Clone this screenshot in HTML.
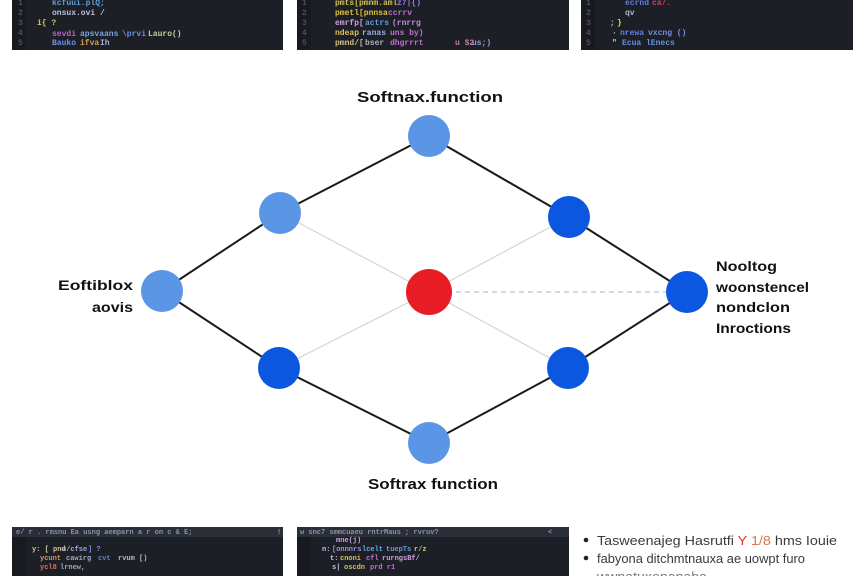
<!DOCTYPE html>
<html>
<head>
<meta charset="utf-8">
<style>
  html,body{margin:0;padding:0;background:#fff;}
  body{width:864px;height:576px;overflow:hidden;position:relative;font-family:"Liberation Sans",sans-serif;}
  svg{position:absolute;left:0;top:0;}
  .code{font-family:"Liberation Mono",monospace;font-size:8px;font-weight:bold;}
  .lbl{font-family:"Liberation Sans",sans-serif;font-weight:bold;fill:#111;}
</style>
</head>
<body>
<svg width="864" height="576" viewBox="0 0 864 576" xmlns="http://www.w3.org/2000/svg">
  <!-- Top code panels -->
  <rect x="12" y="0" width="271" height="50" fill="#1c1f26"/>
  <rect x="12" y="0" width="14" height="50" fill="#181a20"/>
  <rect x="297" y="0" width="272" height="50" fill="#1c1f26"/>
  <rect x="297" y="0" width="14" height="50" fill="#181a20"/>
  <rect x="581" y="0" width="272" height="50" fill="#1c1f26"/>
  <rect x="581" y="0" width="14" height="50" fill="#181a20"/>

  <g class="code">
    <!-- panel 1 -->
    <text x="18" y="5" fill="#4a5060">1</text>
    <text x="18" y="15" fill="#4a5060">2</text>
    <text x="18" y="25" fill="#4a5060">3</text>
    <text x="18" y="35" fill="#4a5060">4</text>
    <text x="18" y="45" fill="#4a5060">5</text>
    <text x="52" y="5" fill="#5f9fd8">kcfuui.plQ;</text>
    <text x="52" y="15" fill="#b9c2d6">onsux.ovi /</text>
    <text x="37" y="25" fill="#d9c46a">i{ ?</text>
    <text x="52" y="36" fill="#c05fd0">sevdi</text>
    <text x="80" y="36" fill="#7ea4e0">apsvaans</text>
    <text x="122" y="36" fill="#6c8fe0">\prvi</text>
    <text x="148" y="36" fill="#c8d0a0">Lauro()</text>
    <text x="52" y="45" fill="#6e8ff0">Bauko</text>
    <text x="80" y="45" fill="#d8a050">ifva</text>
    <text x="100" y="45" fill="#9fb0e0">Ih</text>
    <!-- panel 2 -->
    <text x="302" y="5" fill="#4a5060">1</text>
    <text x="302" y="15" fill="#4a5060">2</text>
    <text x="302" y="25" fill="#4a5060">3</text>
    <text x="302" y="35" fill="#4a5060">4</text>
    <text x="302" y="45" fill="#4a5060">5</text>
    <text x="335" y="5" fill="#d2c050">pmts[pmnm.aml</text>
    <text x="397" y="5" fill="#a070e0">z7|{)</text>
    <text x="335" y="15" fill="#e0c040">pmetl[pnnsa</text>
    <text x="388" y="15" fill="#c070d0">ccrrv</text>
    <text x="335" y="25" fill="#d0a0e0">emrfp[</text>
    <text x="365" y="25" fill="#60a0e0">actrs</text>
    <text x="392" y="25" fill="#c090e0">(rnrrg</text>
    <text x="335" y="35" fill="#e0c050">ndeap</text>
    <text x="362" y="35" fill="#a0b0e0">ranas</text>
    <text x="390" y="35" fill="#c070d0">uns by)</text>
    <text x="335" y="45" fill="#d0c080">pmnd/[</text>
    <text x="365" y="45" fill="#b0b0c0">bser</text>
    <text x="390" y="45" fill="#c070d0">dhgrrrt</text>
    <text x="455" y="45" fill="#c080a0">u $2</text>
    <text x="472" y="45" fill="#90a0d0">us;)</text>
    <!-- panel 3 -->
    <text x="586" y="5" fill="#4a5060">1</text>
    <text x="586" y="15" fill="#4a5060">2</text>
    <text x="586" y="25" fill="#4a5060">3</text>
    <text x="586" y="35" fill="#4a5060">4</text>
    <text x="586" y="45" fill="#4a5060">5</text>
    <text x="625" y="5" fill="#5f7fe0">ecrnd</text>
    <text x="652" y="5" fill="#d04060">ca/.</text>
    <text x="625" y="15" fill="#b0b8c8">qv</text>
    <text x="617" y="25" fill="#f0d060">}</text>
    <text x="610" y="25" fill="#b0b8c8">;</text>
    <text x="612" y="35" fill="#c0c8d8">·</text>
    <text x="620" y="35" fill="#6080e0">nrewa</text>
    <text x="648" y="35" fill="#7090e0">vxcng ()</text>
    <text x="612" y="45" fill="#c0c8d8">"</text>
    <text x="622" y="45" fill="#6a8fe0">Ecua lEnecs</text>
  </g>

  <!-- Bottom code panels -->
  <rect x="12" y="527" width="271" height="49" fill="#1c1f26"/>
  <rect x="12" y="527" width="271" height="10" fill="#2a2e37"/>
  <rect x="12" y="537" width="14" height="39" fill="#181a20"/>
  <rect x="297" y="527" width="272" height="49" fill="#1c1f26"/>
  <rect x="297" y="527" width="272" height="10" fill="#2a2e37"/>
  <rect x="297" y="537" width="14" height="39" fill="#181a20"/>
  <g class="code" style="font-size:7px">
    <text x="16" y="534" fill="#8a93a8">e/ r . rmsnu Ea usng  aemparn a r on c &amp; E;</text>
    <text x="277" y="534" fill="#8a93a8">!</text>
    <text x="32" y="551" fill="#d0c890">y: [ pnd</text>
    <text x="62" y="551" fill="#9aa8d0">u/cfse</text>
    <text x="88" y="551" fill="#7090e0">]  ?</text>
    <text x="40" y="560" fill="#e09060">ycunt</text>
    <text x="66" y="560" fill="#a0a8c0">cawirg</text>
    <text x="98" y="560" fill="#6080d0">cvt</text>
    <text x="118" y="560" fill="#b0b8c8">rvum [)</text>
    <text x="40" y="569" fill="#e07060">ycl8</text>
    <text x="60" y="569" fill="#a0a8c0">lrnew,</text>

    <text x="300" y="534" fill="#8a93a8">w  snc7  smmcuaeu  rntrMaus ;  rvruv?</text>
    <text x="548" y="534" fill="#8a93a8">&lt;</text>
    <text x="322" y="551" fill="#c0c8d8">n:</text>
    <text x="332" y="551" fill="#a090d8">[onnnrs</text>
    <text x="362" y="551" fill="#60b0e0">lcelt</text>
    <text x="386" y="551" fill="#60a0e0">tuepTs</text>
    <text x="414" y="551" fill="#d0c080">r/z</text>
    <text x="330" y="560" fill="#c0c8d8">t:</text>
    <text x="340" y="560" fill="#e0c050">cnoni</text>
    <text x="366" y="560" fill="#c070d0">cfl</text>
    <text x="382" y="560" fill="#d0a0e0">rurngsBf/</text>
    <text x="332" y="569" fill="#c0c8d8">s|</text>
    <text x="344" y="569" fill="#d0c050">oscdn</text>
    <text x="370" y="569" fill="#c070d0">prd r1</text>
    <text x="336" y="542" fill="#c8a0e0">mne(j)</text>
  </g>

  <!-- Bullet list bottom right -->
  <g font-family="Liberation Sans, sans-serif" font-size="13" fill="#3a3a3a">
    <circle cx="586" cy="540" r="2.3" fill="#222"/>
    <text x="597" y="545" textLength="240" lengthAdjust="spacingAndGlyphs">Tasweenajeg Hasrutfi <tspan fill="#e0301a">Y</tspan> <tspan fill="#e07050">1/8</tspan> hms Iouie</text>
    <circle cx="586" cy="558" r="2.3" fill="#222"/>
    <text x="597" y="563" textLength="208" lengthAdjust="spacingAndGlyphs">fabyona ditchmtnauxa ae uowpt furo</text>
    <text x="597" y="581" fill="#777" textLength="110" lengthAdjust="spacingAndGlyphs">wwnatuxenanaba</text>
  </g>

  <!-- Gray thin lines to center -->
  <g stroke="#d4d4d4" stroke-width="1.2">
    <line x1="280" y1="213" x2="429" y2="292"/>
    <line x1="569" y1="217" x2="429" y2="292"/>
    <line x1="279" y1="368" x2="429" y2="292"/>
    <line x1="568" y1="368" x2="429" y2="292"/>
  </g>
  <line x1="429" y1="292" x2="687" y2="292" stroke="#b8c4cc" stroke-width="1.2" stroke-dasharray="5,4"/>

  <!-- Black outer diamond lines -->
  <g stroke="#1a1a1a" stroke-width="2">
    <line x1="162" y1="291" x2="280" y2="213"/>
    <line x1="280" y1="213" x2="429" y2="136"/>
    <line x1="429" y1="136" x2="569" y2="217"/>
    <line x1="569" y1="217" x2="687" y2="292"/>
    <line x1="162" y1="291" x2="279" y2="368"/>
    <line x1="279" y1="368" x2="429" y2="443"/>
    <line x1="429" y1="443" x2="568" y2="368"/>
    <line x1="568" y1="368" x2="687" y2="292"/>
  </g>

  <!-- Nodes -->
  <g>
    <circle cx="429" cy="136" r="21" fill="#5b95e6"/>
    <circle cx="280" cy="213" r="21" fill="#5b95e6"/>
    <circle cx="162" cy="291" r="21" fill="#5b95e6"/>
    <circle cx="429" cy="443" r="21" fill="#5b95e6"/>
    <circle cx="569" cy="217" r="21" fill="#0b57e0"/>
    <circle cx="687" cy="292" r="21" fill="#0b57e0"/>
    <circle cx="279" cy="368" r="21" fill="#0b57e0"/>
    <circle cx="568" cy="368" r="21" fill="#0b57e0"/>
    <circle cx="429" cy="292" r="23" fill="#e81c24"/>
  </g>

  <!-- Labels -->
  <text class="lbl" x="430" y="102" font-size="15" text-anchor="middle" textLength="146" lengthAdjust="spacingAndGlyphs">Softnax.function</text>
  <text class="lbl" x="433" y="489" font-size="15" text-anchor="middle" textLength="130" lengthAdjust="spacingAndGlyphs">Softrax function</text>
  <text class="lbl" x="133" y="290" font-size="14" text-anchor="end" textLength="75" lengthAdjust="spacingAndGlyphs">Eoftiblox</text>
  <text class="lbl" x="133" y="312" font-size="14" text-anchor="end" textLength="41" lengthAdjust="spacingAndGlyphs">aovis</text>
  <text class="lbl" x="716" y="271" font-size="14" textLength="61" lengthAdjust="spacingAndGlyphs">Nooltog</text>
  <text class="lbl" x="716" y="292" font-size="14" textLength="93" lengthAdjust="spacingAndGlyphs">woonstencel</text>
  <text class="lbl" x="716" y="312" font-size="14" textLength="74" lengthAdjust="spacingAndGlyphs">nondclon</text>
  <text class="lbl" x="716" y="333" font-size="14" textLength="75" lengthAdjust="spacingAndGlyphs">Inroctions</text>
</svg>
</body>
</html>
